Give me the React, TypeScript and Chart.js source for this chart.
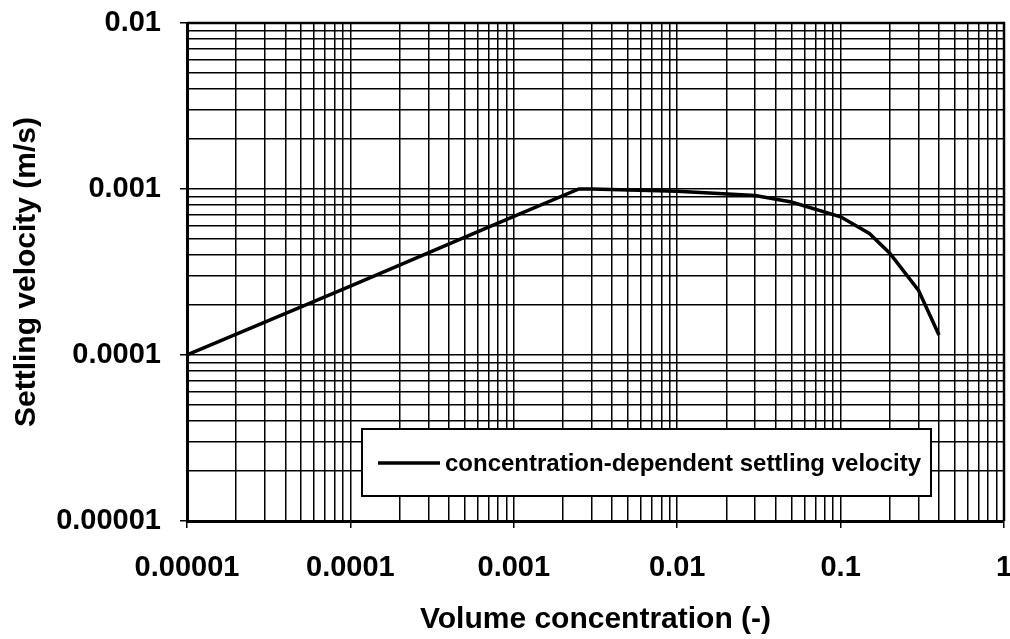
import React, { useEffect, useRef } from 'react';
import { Chart, registerables } from 'chart.js';

Chart.register(...registerables);

// ---- data ----
const concentration = [1e-5, 1e-4, 7e-4, 2.5e-3, 3e-3, 0.01, 0.03, 0.05, 0.1, 0.15, 0.2, 0.3, 0.4];
const settlingVelocity = [1e-4, 2.6e-4, 5.9e-4, 1e-3, 1e-3, 9.7e-4, 9.15e-4, 8.35e-4, 6.8e-4, 5.4e-4, 4.1e-4, 2.45e-4, 1.32e-4];
const seriesLabel = 'concentration-dependent settling velocity';

const xDecades = [-5, -4, -3, -2, -1, 0];
const yDecades = [-5, -4, -3, -2];
const xTickLabels = ['0.00001', '0.0001', '0.001', '0.01', '0.1', '1'];
const yTickLabels = ['0.00001', '0.0001', '0.001', '0.01'];

const xTitle = 'Volume concentration (-)';
const yTitle = 'Settling velocity (m/s)';

const FONT = '"Liberation Sans", Arial, Helvetica, sans-serif';

function logTicks(decades: number[]) {
  const out: { value: number; major: boolean }[] = [];
  decades.forEach((e, i) => {
    const last = i === decades.length - 1;
    const maxM = last ? 1 : 9;
    for (let m = 1; m <= maxM; m++) {
      out.push({ value: Number((m * Math.pow(10, e)).toPrecision(2)), major: m === 1 });
    }
  });
  return out;
}

function labelFor(decades: number[], labels: string[]) {
  return (value: number, index: number, ticks: any[]) => {
    const t = ticks[index];
    if (!t || !t.major) return '';
    const d = Math.round(Math.log10(value));
    return labels[d - decades[0]] ?? '';
  };
}

const PLOT_LEFT = 187;
const PLOT_BOTTOM = 521;
const W = 1010;
const H = 639;

const framePlugin = {
  id: 'frame',
  afterDraw(chart: any) {
    const { ctx, chartArea } = chart;
    ctx.save();
    ctx.strokeStyle = '#000';
    ctx.lineWidth = 2.5;
    ctx.beginPath();
    ctx.moveTo(chartArea.left, chartArea.top);
    ctx.lineTo(chartArea.right, chartArea.top);
    ctx.lineTo(chartArea.right, chartArea.bottom);
    ctx.stroke();

    // legend box
    const bx = 362, by = 429, bw = 569, bh = 67;
    ctx.fillStyle = '#fff';
    ctx.fillRect(bx, by, bw, bh);
    ctx.lineWidth = 2;
    ctx.strokeRect(bx, by, bw, bh);
    ctx.lineWidth = 3.5;
    ctx.beginPath();
    ctx.moveTo(378, 463);
    ctx.lineTo(440, 463);
    ctx.stroke();
    ctx.fillStyle = '#000';
    ctx.font = `bold 24px ${FONT}`;
    ctx.textAlign = 'left';
    ctx.textBaseline = 'middle';
    ctx.fillText(chart.data.datasets[0].label, 445, 464);
    ctx.restore();
  },
};

export default function App() {
  const ref = useRef<HTMLCanvasElement | null>(null);

  useEffect(() => {
    if (!ref.current) return;
    Chart.defaults.font.family = FONT;
    const tickColor = (c: any) => (c.tick && c.tick.major ? '#000' : 'rgba(0,0,0,0)');
    const chart = new Chart(ref.current, {
      type: 'line',
      data: {
        datasets: [
          {
            label: seriesLabel,
            data: concentration.map((x, i) => ({ x, y: settlingVelocity[i] })),
            borderColor: '#000',
            borderWidth: 3.5,
            pointRadius: 0,
            tension: 0,
            fill: false,
          },
        ],
      },
      options: {
        responsive: false,
        animation: false,
        events: [],
        layout: { padding: { left: 0, top: 23, right: 6, bottom: 0 } },
        plugins: { legend: { display: false }, tooltip: { enabled: false } },
        scales: {
          x: {
            type: 'logarithmic',
            min: 1e-5,
            max: 1,
            afterBuildTicks: (s: any) => {
              s.ticks = logTicks(xDecades);
            },
            afterFit: (s: any) => {
              s.height = H - PLOT_BOTTOM;
              s.paddingLeft = 0;
              s.paddingRight = 0;
            },
            grid: {
              color: '#000',
              lineWidth: 1.5,
              drawTicks: true,
              tickLength: 7,
              tickColor,
              tickWidth: 1.5,
            },
            border: { display: true, color: '#000', width: 3 },
            ticks: {
              autoSkip: false,
              maxRotation: 0,
              padding: 23,
              color: '#000',
              font: { size: 29, weight: 'bold', family: FONT },
              callback: labelFor(xDecades, xTickLabels) as any,
            },
            title: {
              display: true,
              text: xTitle,
              color: '#000',
              font: { size: 30, weight: 'bold', family: FONT },
              padding: { top: 0, bottom: 1.5 },
            },
          },
          y: {
            type: 'logarithmic',
            min: 1e-5,
            max: 0.01,
            afterBuildTicks: (s: any) => {
              s.ticks = logTicks(yDecades);
            },
            afterFit: (s: any) => {
              s.width = PLOT_LEFT;
              s.paddingTop = 0;
              s.paddingBottom = 0;
            },
            grid: {
              color: '#000',
              lineWidth: 1.5,
              drawTicks: true,
              tickLength: 7,
              tickColor,
              tickWidth: 1.5,
            },
            border: { display: true, color: '#000', width: 3 },
            ticks: {
              autoSkip: false,
              padding: 19,
              color: '#000',
              font: { size: 29, weight: 'bold', family: FONT },
              callback: labelFor(yDecades, yTickLabels) as any,
            },
            title: {
              display: true,
              text: yTitle,
              color: '#000',
              font: { size: 30, weight: 'bold', family: FONT },
              padding: { top: 9, bottom: 0 },
            },
          },
        },
      },
      plugins: [framePlugin],
    } as any);
    return () => chart.destroy();
  }, []);

  return (
    <div style={{ position: 'absolute', left: 0, top: 0, width: W, height: H, background: '#fff' }}>
      <canvas ref={ref} width={W} height={H} style={{ display: 'block', width: W, height: H }} />
    </div>
  );
}
